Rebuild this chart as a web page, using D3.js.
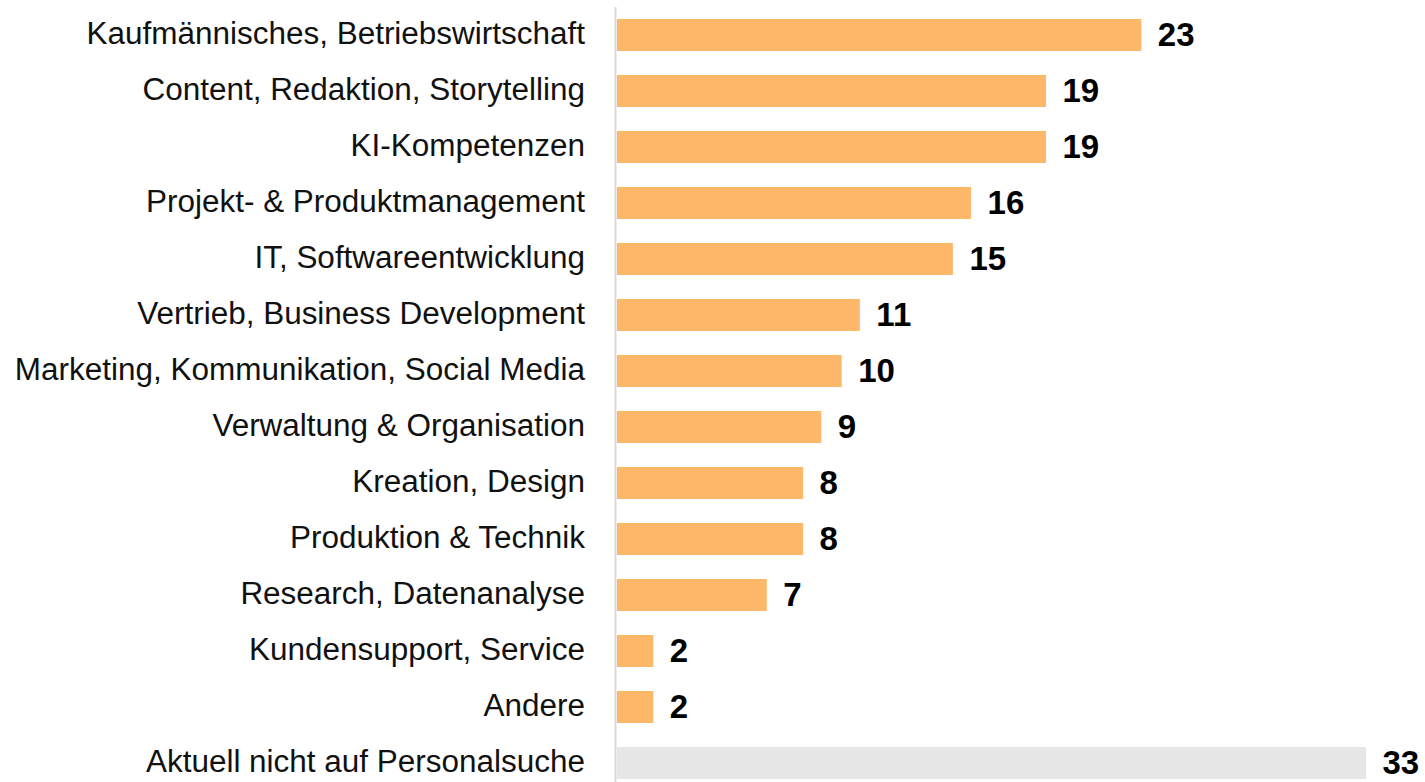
<!DOCTYPE html>
<html>
<head>
<meta charset="utf-8">
<script src="https://cdn.jsdelivr.net/npm/d3@7"></script>
<style>
  html, body { margin: 0; padding: 0; background: #fff; }
  svg { display: block; }
</style>
</head>
<body>
<svg id="chart"></svg>
<script>
var WIDTH = 1425, HEIGHT = 782;

// Daten
var categories = [
  "Kaufmännisches, Betriebswirtschaft",
  "Content, Redaktion, Storytelling",
  "KI-Kompetenzen",
  "Projekt- & Produktmanagement",
  "IT, Softwareentwicklung",
  "Vertrieb, Business Development",
  "Marketing, Kommunikation, Social Media",
  "Verwaltung & Organisation",
  "Kreation, Design",
  "Produktion & Technik",
  "Research, Datenanalyse",
  "Kundensupport, Service",
  "Andere",
  "Aktuell nicht auf Personalsuche"
];
// Balkenlänge (aus dem Bild geschätzt) und gerundete Beschriftung
var values = [23.1, 18.9, 18.9, 15.6, 14.8, 10.7, 9.9, 9.0, 8.2, 8.2, 6.6, 1.6, 1.6, 33];
var valueLabels = ["23", "19", "19", "16", "15", "11", "10", "9", "8", "8", "7", "2", "2", "33"];
var greyed = [false, false, false, false, false, false, false, false, false, false, false, false, false, true];

var ORANGE = "#ffb869", GREY = "#e6e6e6";

var svg = d3.select("#chart").attr("width", WIDTH).attr("height", HEIGHT);

var rows = categories.map(function (c, i) {
  return { name: c, value: values[i], label: valueLabels[i], grey: greyed[i] };
});

var x = d3.scaleLinear().domain([0, 33]).range([617, 1366]);
var y = d3.scaleBand().domain(categories).range([7, 791])
  .paddingInner(24 / 56).paddingOuter(12 / 56);

// Balken
svg.append("g").attr("class", "bars").selectAll("rect").data(rows).enter().append("rect")
  .attr("x", x(0))
  .attr("y", function (d) { return y(d.name); })
  .attr("width", function (d) { return x(d.value) - x(0); })
  .attr("height", y.bandwidth())
  .attr("fill", function (d) { return d.grey ? GREY : ORANGE; });

// Achse
svg.append("line")
  .attr("x1", x(0) - 1.5).attr("x2", x(0) - 1.5)
  .attr("y1", 7).attr("y2", HEIGHT)
  .attr("stroke", "#d9d9d9").attr("stroke-width", 2);

// Kategorien
var labels = svg.append("g").attr("class", "labels").selectAll("text").data(rows).enter().append("text")
  .attr("x", 585)
  .attr("y", function (d) { return y(d.name) + y.bandwidth() / 2 + 9; })
  .attr("text-anchor", "end")
  .attr("font-family", "'Liberation Sans', Arial, sans-serif")
  .attr("font-size", 28)
  .attr("fill", "#111")
  .text(function (d) { return d.name; });

// Schriftgrösse an die Gesamtbreite der Beschriftungen anpassen
var totalW = d3.sum(labels.nodes(), function (n) { return n.getComputedTextLength(); });
var fs = 28 * 5112 / totalW;
labels.attr("font-size", fs);
// längste Beschriftung darf nicht über den Rand
var maxW = d3.max(labels.nodes(), function (n) { return n.getComputedTextLength(); });
if (maxW > 570) labels.attr("font-size", fs * 570 / maxW);

// Werte
svg.append("g").attr("class", "values").selectAll("text").data(rows).enter().append("text")
  .attr("x", function (d) { return x(d.value) + 16.5; })
  .attr("y", function (d) { return y(d.name) + y.bandwidth() / 2 + 11; })
  .attr("font-family", "'Liberation Sans', Arial, sans-serif")
  .attr("font-weight", "bold")
  .attr("font-size", 33)
  .attr("fill", "#000")
  .text(function (d) { return d.label; });
</script>
</body>
</html>
